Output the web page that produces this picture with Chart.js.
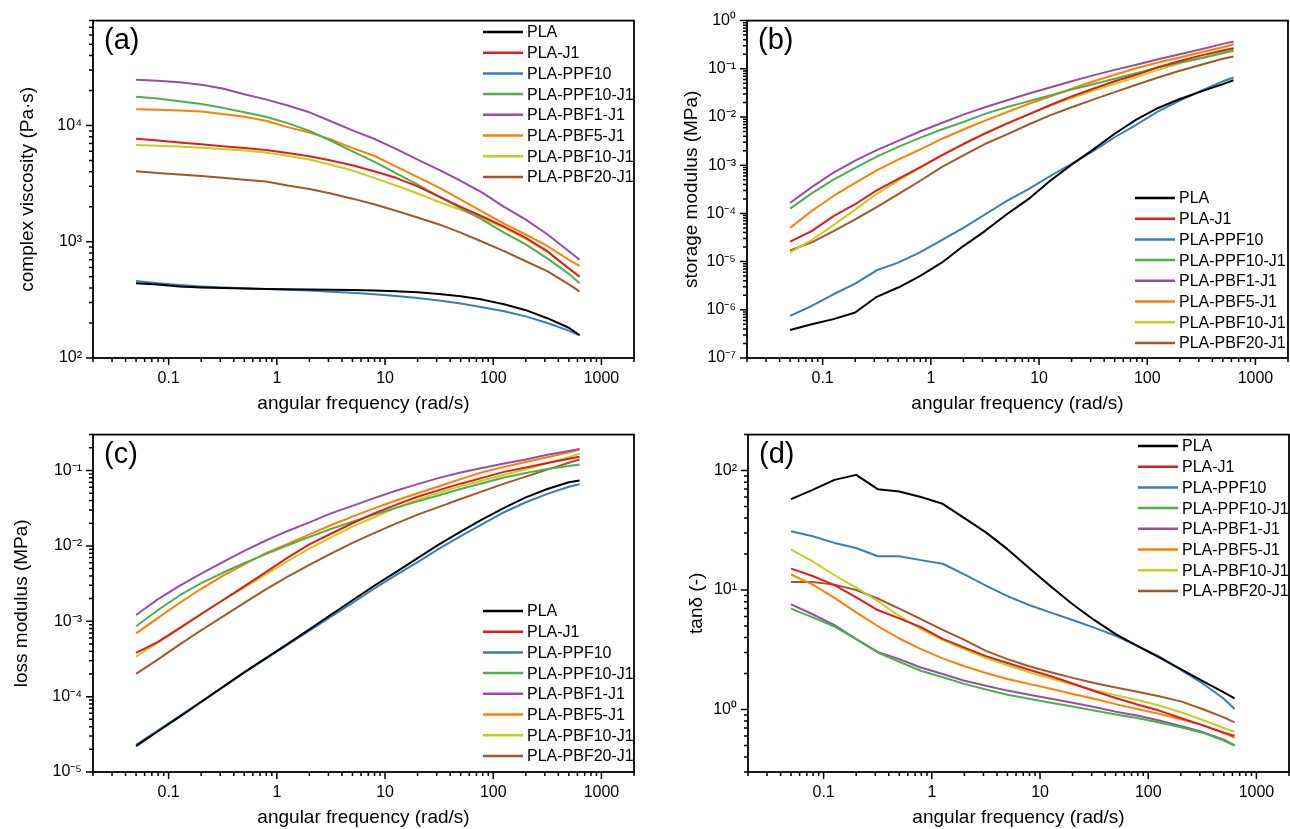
<!DOCTYPE html>
<html>
<head>
<meta charset="utf-8">
<script src="https://cdn.jsdelivr.net/npm/chart.js@4.4.1/dist/chart.umd.min.js"></script>
<style>
  html, body { margin: 0; padding: 0; background: #fff; overflow: hidden; }
  #wrap { position: relative; width: 1290px; height: 829px; overflow: hidden; }
  #wrap canvas { position: absolute; }
</style>
</head>
<body>
<div id="wrap">
  <canvas id="chartA" width="645" height="415" style="left:0;top:0"></canvas>
  <canvas id="chartB" width="645" height="415" style="left:654px;top:0"></canvas>
  <canvas id="chartC" width="645" height="415" style="left:0;top:414px"></canvas>
  <canvas id="chartD" width="645" height="415" style="left:655px;top:414px"></canvas>
</div>
<script>
// angular frequency (rad/s)
const freq = [0.05, 0.0792, 0.126, 0.2, 0.316, 0.5, 0.792, 1.26, 2, 3.16, 5, 7.92, 12.6, 20, 31.6, 50, 79.2, 126, 200, 316, 500, 628];

const seriesNames = ["PLA", "PLA-J1", "PLA-PPF10", "PLA-PPF10-J1", "PLA-PBF1-J1", "PLA-PBF5-J1", "PLA-PBF10-J1", "PLA-PBF20-J1"];
const seriesColors = ["#000000", "#e41a1c", "#377eb8", "#4daf4a", "#984ea3", "#ff7f00", "#c3cf1a", "#a65628"];

// (a) complex viscosity, Pa·s
const viscosity = [
  [440, 428, 412, 405, 400, 397, 393, 390, 388, 386, 384, 380, 376, 368, 355, 340, 318, 290, 258, 220, 182, 157],
  [7700, 7450, 7150, 6900, 6650, 6400, 6150, 5800, 5450, 5000, 4550, 4050, 3550, 3000, 2450, 2000, 1650, 1350, 1080, 830, 590, 500],
  [460, 440, 425, 413, 405, 398, 392, 387, 380, 372, 364, 354, 342, 328, 312, 294, 273, 252, 228, 200, 172, 157],
  [17700, 17100, 16200, 15300, 14200, 13000, 11900, 10500, 9000, 7400, 6000, 4900, 3900, 3100, 2450, 1950, 1550, 1200, 950, 720, 530, 440],
  [24800, 24300, 23600, 22400, 20800, 18600, 16800, 14900, 13000, 10900, 9100, 7700, 6300, 5100, 4150, 3350, 2650, 2000, 1550, 1160, 830, 700],
  [13800, 13700, 13500, 13200, 12600, 11900, 11000, 9700, 8700, 7600, 6400, 5500, 4450, 3600, 2920, 2300, 1820, 1430, 1150, 920, 700, 620],
  [6800, 6700, 6600, 6450, 6300, 6100, 5850, 5500, 5100, 4600, 4100, 3550, 3050, 2600, 2200, 1880, 1600, 1320, 1060, 820, 590, 505],
  [4050, 3900, 3800, 3680, 3550, 3420, 3300, 3050, 2850, 2600, 2350, 2100, 1850, 1620, 1410, 1200, 1000, 830, 680, 560, 430, 375]
];

// (b) storage modulus, MPa
const storageModulus = [
  [3.8e-7, 5.0e-7, 6.4e-7, 8.8e-7, 1.86e-6, 2.9e-6, 5.0e-6, 9.5e-6, 2.1e-5, 4.3e-5, 9.5e-5, 1.95e-4, 4.7e-4, 1.03e-3, 2.1e-3, 4.5e-3, 8.8e-3, 0.0154, 0.0236, 0.034, 0.048, 0.058],
  [2.6e-5, 4.3e-5, 8.8e-5, 1.55e-4, 3.0e-4, 5.2e-4, 9.0e-4, 1.6e-3, 2.75e-3, 4.5e-3, 7.2e-3, 0.0112, 0.0175, 0.0267, 0.0386, 0.055, 0.075, 0.108, 0.145, 0.19, 0.24, 0.268],
  [7.5e-7, 1.2e-6, 2.1e-6, 3.5e-6, 6.6e-6, 9.5e-6, 1.55e-5, 2.8e-5, 5.0e-5, 9.5e-5, 1.8e-4, 3.15e-4, 5.9e-4, 1.07e-3, 1.95e-3, 3.8e-3, 6.9e-3, 0.0131, 0.0218, 0.035, 0.055, 0.066],
  [1.26e-4, 2.6e-4, 5.0e-4, 8.8e-4, 1.5e-3, 2.4e-3, 3.7e-3, 5.5e-3, 7.9e-3, 0.0116, 0.0159, 0.0211, 0.028, 0.037, 0.048, 0.062, 0.081, 0.107, 0.135, 0.166, 0.211, 0.236],
  [1.64e-4, 3.5e-4, 7.0e-4, 1.25e-3, 2.05e-3, 3.2e-3, 5.0e-3, 7.5e-3, 0.0112, 0.0159, 0.022, 0.0304, 0.041, 0.055, 0.073, 0.095, 0.121, 0.158, 0.201, 0.255, 0.329, 0.368],
  [5.0e-5, 1.12e-4, 2.3e-4, 4.3e-4, 7.8e-4, 1.3e-3, 2.1e-3, 3.5e-3, 5.5e-3, 8.4e-3, 0.0125, 0.0186, 0.0267, 0.0386, 0.0547, 0.075, 0.103, 0.135, 0.172, 0.221, 0.281, 0.324],
  [1.55e-5, 2.8e-5, 5.7e-5, 1.2e-4, 2.55e-4, 4.8e-4, 8.8e-4, 1.6e-3, 2.75e-3, 4.6e-3, 7.4e-3, 0.0112, 0.017, 0.0247, 0.035, 0.049, 0.067, 0.095, 0.13, 0.17, 0.22, 0.247],
  [1.7e-5, 2.5e-5, 4.3e-5, 7.5e-5, 1.35e-4, 2.5e-4, 4.7e-4, 9.1e-4, 1.6e-3, 2.75e-3, 4.3e-3, 6.9e-3, 0.0108, 0.0159, 0.0229, 0.0329, 0.0467, 0.066, 0.091, 0.121, 0.161, 0.18]
];

// (c) loss modulus, MPa
const lossModulus = [
  [2.2e-5, 3.45e-5, 5.4e-5, 8.5e-5, 1.34e-4, 2.1e-4, 3.25e-4, 5.0e-4, 7.8e-4, 1.22e-3, 1.9e-3, 2.95e-3, 4.5e-3, 6.9e-3, 0.0105, 0.0155, 0.0225, 0.032, 0.044, 0.057, 0.07, 0.074],
  [3.8e-4, 5.3e-4, 8.1e-4, 1.25e-3, 1.9e-3, 2.9e-3, 4.5e-3, 7.0e-3, 0.0105, 0.0145, 0.02, 0.027, 0.035, 0.045, 0.055, 0.067, 0.08, 0.096, 0.11, 0.126, 0.143, 0.152],
  [2.3e-5, 3.55e-5, 5.5e-5, 8.6e-5, 1.34e-4, 2.1e-4, 3.2e-4, 4.9e-4, 7.5e-4, 1.15e-3, 1.75e-3, 2.7e-3, 4.1e-3, 6.1e-3, 9.2e-3, 0.0135, 0.0195, 0.028, 0.038, 0.049, 0.061, 0.066],
  [8.6e-4, 1.4e-3, 2.2e-3, 3.2e-3, 4.4e-3, 5.9e-3, 7.8e-3, 0.0102, 0.0132, 0.0168, 0.021, 0.026, 0.032, 0.039, 0.047, 0.057, 0.068, 0.081, 0.093, 0.105, 0.115, 0.12],
  [1.21e-3, 1.95e-3, 2.95e-3, 4.3e-3, 6.1e-3, 8.6e-3, 0.0118, 0.0158, 0.0205, 0.027, 0.034, 0.043, 0.054, 0.066, 0.08, 0.094, 0.108, 0.124, 0.14, 0.162, 0.182, 0.194],
  [6.9e-4, 1.1e-3, 1.75e-3, 2.7e-3, 4.0e-3, 5.7e-3, 8.0e-3, 0.0106, 0.0142, 0.0188, 0.0245, 0.0315, 0.04, 0.05, 0.062, 0.077, 0.095, 0.112, 0.13, 0.15, 0.175, 0.19],
  [3.4e-4, 5.2e-4, 8.0e-4, 1.25e-3, 1.9e-3, 2.8e-3, 4.2e-3, 6.3e-3, 9.2e-3, 0.013, 0.018, 0.024, 0.032, 0.041, 0.051, 0.062, 0.074, 0.088, 0.104, 0.125, 0.15, 0.168],
  [2.0e-4, 3.1e-4, 4.9e-4, 7.6e-4, 1.15e-3, 1.75e-3, 2.65e-3, 3.9e-3, 5.6e-3, 7.9e-3, 0.011, 0.0148, 0.0198, 0.026, 0.033, 0.042, 0.053, 0.067, 0.083, 0.103, 0.127, 0.14]
];

// (d) tan delta
const tanDelta = [
  [57.7, 69, 83.6, 92, 69.9, 66.8, 60, 52.7, 40, 30.4, 22, 15.3, 10.7, 7.6, 5.62, 4.27, 3.41, 2.73, 2.18, 1.74, 1.39, 1.24],
  [15.1, 13.1, 11.0, 8.7, 6.8, 5.8, 4.9, 3.9, 3.3, 2.8, 2.45, 2.15, 1.9, 1.65, 1.43, 1.25, 1.1, 0.98, 0.85, 0.74, 0.64, 0.6],
  [31, 28.2, 24.8, 22.5, 19.2, 19.2, 17.8, 16.6, 13.5, 10.9, 8.9, 7.5, 6.47, 5.62, 4.85, 4.14, 3.41, 2.78, 2.15, 1.66, 1.23, 1.01],
  [7.0, 5.9, 4.95, 3.88, 3.0, 2.51, 2.11, 1.86, 1.64, 1.47, 1.33, 1.23, 1.14, 1.06, 0.98, 0.91, 0.85, 0.78, 0.71, 0.64, 0.55, 0.5],
  [7.6, 6.27, 5.08, 3.88, 3.04, 2.64, 2.25, 1.98, 1.74, 1.58, 1.44, 1.33, 1.23, 1.14, 1.05, 0.96, 0.89, 0.81, 0.73, 0.65, 0.56, 0.5],
  [13.5, 11.1, 8.6, 6.5, 5.0, 3.93, 3.2, 2.68, 2.3, 2.02, 1.8, 1.64, 1.49, 1.35, 1.23, 1.11, 1.01, 0.92, 0.83, 0.74, 0.64, 0.58],
  [21.8, 17.4, 13.3, 10.5, 8.1, 6.07, 4.7, 3.81, 3.2, 2.7, 2.35, 2.05, 1.82, 1.62, 1.45, 1.32, 1.2, 1.08, 0.95, 0.82, 0.7, 0.65],
  [11.7, 11.7, 11.1, 10, 8.5, 7.0, 5.7, 4.64, 3.83, 3.1, 2.64, 2.3, 2.05, 1.84, 1.67, 1.53, 1.41, 1.29, 1.17, 1.01, 0.86, 0.78]
];

// tick labels
const xTickValues = [0.1, 1, 10, 100, 1000];
const xTickLabels = ["0.1", "1", "10", "100", "1000"];
const viscosityTicks = [1e2, 1e3, 1e4];
const viscosityTickLabels = ["10²", "10³", "10⁴"];
const storageTicks = [1e-7, 1e-6, 1e-5, 1e-4, 1e-3, 1e-2, 1e-1, 1];
const storageTickLabels = ["10⁻⁷", "10⁻⁶", "10⁻⁵", "10⁻⁴", "10⁻³", "10⁻²", "10⁻¹", "10⁰"];
const lossTicks = [1e-5, 1e-4, 1e-3, 1e-2, 1e-1];
const lossTickLabels = ["10⁻⁵", "10⁻⁴", "10⁻³", "10⁻²", "10⁻¹"];
const tanTicks = [1, 10, 100];
const tanTickLabels = ["10⁰", "10¹", "10²"];

Chart.defaults.font.family = '"Liberation Sans", Arial, sans-serif';
Chart.defaults.color = "#000";

function isDecade(v) {
  const l = Math.log10(v);
  return Math.abs(l - Math.round(l)) < 1e-6;
}

// 1..9 x 10^n ticks between min and max
function logTicks(min, max) {
  const out = [];
  for (let e = Math.floor(Math.log10(min)); e <= Math.ceil(Math.log10(max)); e++) {
    for (let m = 1; m < 10; m++) {
      const v = parseFloat(m + "e" + e);
      if (v >= min * 0.999 && v <= max * 1.001) out.push(v);
    }
  }
  return out;
}

function labelFor(value, vals, labels) {
  const i = vals.findIndex((v) => Math.abs(Math.log10(v) - Math.log10(value)) < 1e-6);
  return i < 0 ? "" : labels[i];
}

// box round the plot and outward tick marks
const axisFrame = {
  id: "axisFrame",
  afterDraw(chart) {
    const { ctx, chartArea: a } = chart;
    const xs = chart.scales.x, ys = chart.scales.y;
    ctx.save();
    ctx.strokeStyle = "#000";
    ctx.lineWidth = 1.5;
    ctx.beginPath();
    xs.ticks.forEach((t) => {
      const px = xs.getPixelForValue(t.value);
      const len = isDecade(t.value) ? 7 : 4;
      ctx.moveTo(px, a.bottom);
      ctx.lineTo(px, a.bottom + len);
    });
    ys.ticks.forEach((t) => {
      const py = ys.getPixelForValue(t.value);
      const len = isDecade(t.value) ? 7 : 4;
      ctx.moveTo(a.left, py);
      ctx.lineTo(a.left - len, py);
    });
    ctx.stroke();
    ctx.lineWidth = 1.8;
    ctx.strokeRect(a.left, a.top, a.right - a.left, a.bottom - a.top);
    ctx.restore();
  }
};

// legend drawn inside the plot area
const insideLegend = {
  id: "insideLegend",
  afterDraw(chart, args, opts) {
    const ctx = chart.ctx;
    ctx.save();
    ctx.font = '16px "Liberation Sans", Arial, sans-serif';
    ctx.textBaseline = "middle";
    ctx.textAlign = "left";
    chart.data.datasets.forEach((ds, i) => {
      const y = opts.y + i * opts.step;
      ctx.strokeStyle = ds.borderColor;
      ctx.lineWidth = 2.5;
      ctx.beginPath();
      ctx.moveTo(opts.x, y);
      ctx.lineTo(opts.x + 40, y);
      ctx.stroke();
      ctx.fillStyle = "#000";
      ctx.fillText(ds.label, opts.x + 44, y + 1);
    });
    ctx.restore();
  }
};

const panelTag = {
  id: "panelTag",
  afterDraw(chart, args, opts) {
    const ctx = chart.ctx;
    ctx.save();
    ctx.font = '29px "Liberation Sans", Arial, sans-serif';
    ctx.fillStyle = "#000";
    ctx.textBaseline = "middle";
    ctx.fillText(opts.text, 104, 41);
    ctx.restore();
  }
};

const panels = [
  { id: "chartA", tag: "(a)", title: "complex viscosity (Pa·s)", values: viscosity, yMin: 100, yMax: 8e4, yTicks: viscosityTicks, yLabels: viscosityTickLabels, titleGap: 16, legendX: 483, legendY: 32 },
  { id: "chartB", tag: "(b)", title: "storage modulus (MPa)", values: storageModulus, yMin: 1e-7, yMax: 1, yTicks: storageTicks, yLabels: storageTickLabels, titleGap: 26, legendX: 481, legendY: 198 },
  { id: "chartC", tag: "(c)", title: "loss modulus (MPa)", values: lossModulus, yMin: 1e-5, yMax: 0.3, yTicks: lossTicks, yLabels: lossTickLabels, titleGap: 10, legendX: 483, legendY: 197 },
  { id: "chartD", tag: "(d)", title: "tanδ (-)", values: tanDelta, yMin: 0.3, yMax: 200, yTicks: tanTicks, yLabels: tanTickLabels, titleGap: 30, legendX: 483, legendY: 32 }
];

panels.forEach((p) => {
  const datasets = p.values.map((vals, i) => ({
    label: seriesNames[i],
    data: freq.map((f, j) => ({ x: f, y: vals[j] })),
    borderColor: seriesColors[i],
    backgroundColor: seriesColors[i],
    borderWidth: 2,
    borderJoinStyle: "round",
    pointRadius: 0,
    tension: 0,
    fill: false
  }));

  new Chart(document.getElementById(p.id), {
    type: "line",
    data: { datasets },
    options: {
      responsive: false,
      animation: false,
      devicePixelRatio: 1,
      layout: { padding: { top: 19, right: 5, left: 0, bottom: 0 } },
      plugins: {
        legend: { display: false },
        tooltip: { enabled: false },
        insideLegend: { x: p.legendX, y: p.legendY, step: 20.7 },
        panelTag: { text: p.tag }
      },
      scales: {
        x: {
          type: "logarithmic",
          min: 0.02,
          max: 2000,
          grid: { display: false, drawTicks: false },
          border: { display: false },
          afterBuildTicks: (s) => { s.ticks = logTicks(0.02, 2000).map((v) => ({ value: v })); },
          afterFit: (s) => { s.height = 57; },
          ticks: {
            autoSkip: false,
            maxRotation: 0,
            padding: 11,
            font: { size: 16 },
            callback: (v) => labelFor(v, xTickValues, xTickLabels)
          },
          title: {
            display: true,
            text: "angular frequency (rad/s)",
            font: { size: 19 },
            padding: { top: 0, bottom: 0 }
          }
        },
        y: {
          type: "logarithmic",
          min: p.yMin,
          max: p.yMax,
          grid: { display: false, drawTicks: false },
          border: { display: false },
          afterBuildTicks: (s) => { s.ticks = logTicks(p.yMin, p.yMax).map((v) => ({ value: v })); },
          afterFit: (s) => { s.width = 93; },
          ticks: {
            autoSkip: false,
            padding: 11,
            font: { size: 16 },
            callback: (v) => labelFor(v, p.yTicks, p.yLabels)
          },
          title: {
            display: true,
            text: p.title,
            font: { size: 19 },
            padding: { top: p.titleGap, bottom: 0 }
          }
        }
      }
    },
    plugins: [axisFrame, insideLegend, panelTag]
  });
});
</script>
</body>
</html>
